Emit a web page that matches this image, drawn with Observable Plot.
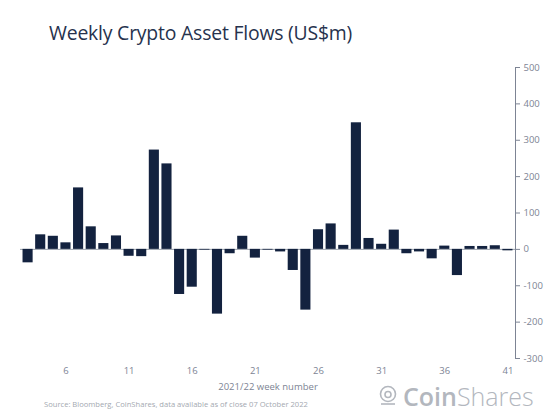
<!DOCTYPE html>
<html>
<head>
<meta charset="utf-8">
<script src="https://cdn.jsdelivr.net/npm/d3@7"></script>
<script src="https://cdn.jsdelivr.net/npm/@observablehq/plot@0.6"></script>
<style>
  body { margin: 0; background: #fff; font-family: "Open Sans", sans-serif; }
  #wrap { position: relative; width: 560px; height: 420px; overflow: hidden; }
  #title { position: absolute; left: 49px; top: 19px; font-size: 19.4px; color: #26324d; letter-spacing: -0.2px; }
  #chart { position: absolute; left: 0; top: 55px; }
  #source { position: absolute; left: 44px; top: 399px; font-size: 7.6px; color: #a3a8b0; }
  #logo { position: absolute; left: 378px; top: 379px; font-size: 25px; color: #b3b7be; display: flex; align-items: center; }
  #logo b { font-weight: 600; }
  #logo span { font-weight: 300; }
</style>
</head>
<body>
<div id="wrap">
  <div id="title">Weekly Crypto Asset Flows (US$m)</div>
  <div id="chart"></div>
  <div id="source">Source: Bloomberg, CoinShares, data available as of close 07 October 2022</div>
  <div id="logo">
    <svg width="20" height="22" viewBox="0 0 20 22" style="margin-right:5px">
      <circle cx="10" cy="9" r="7.5" fill="none" stroke="#b3b7be" stroke-width="1.6"/>
      <circle cx="10" cy="9.5" r="3" fill="none" stroke="#b3b7be" stroke-width="1.6"/>
      <path d="M3 19 H17" stroke="#b3b7be" stroke-width="1.6"/>
    </svg>
    <b>Coin</b><span>Shares</span>
  </div>
</div>
<script>
// week numbers 3..41
const weeks = d3.range(3, 42);
// flows in US$m
const flows = [
  -37, 40, 36, 18, 169, 62, 16, 37, -19, -20,
  273, 235, -124, -104, -2, -178, -12, 36, -24, -2,
  -7, -58, -167, 54, 70, 11, 348, 30, 14, 53,
  -12, -7, -26, 9, -72, 8, 8, 10, -4
];
const tickWeeks = [6, 11, 16, 21, 26, 31, 36, 41];
const yTicks = [-300, -200, -100, 0, 100, 200, 300, 400, 500];

const data = weeks.map((w, i) => ({week: w, flow: flows[i]}));

let chart = Plot.plot({
  width: 560,
  height: 345,
  marginLeft: 20,
  marginRight: 45,
  marginTop: 12,
  marginBottom: 42,
  x: {
    type: "band", domain: weeks, padding: 0.2, round: false,
    ticks: tickWeeks, tickSize: 0, tickPadding: 9,
    label: "2021/22 week number", labelAnchor: "center", labelOffset: 31
  },
  y: {
    domain: [-300, 500], axis: "right", line: true,
    ticks: yTicks, tickSize: 4, tickPadding: 4, label: null,
    tickFormat: d => String(d) // plain hyphen like the original
  },
  style: {fontFamily: "'Open Sans', sans-serif", fontSize: "9.5px", color: "#7d8494", background: "white"},
  marks: [
    Plot.ruleY([0], {stroke: "#9aa1ab", strokeWidth: 1}),
    Plot.barY(data, {x: "week", y: "flow", fill: "#13223f"})
  ]
})
d3.select('#chart').append(() => chart)
</script>
</body>
</html>
